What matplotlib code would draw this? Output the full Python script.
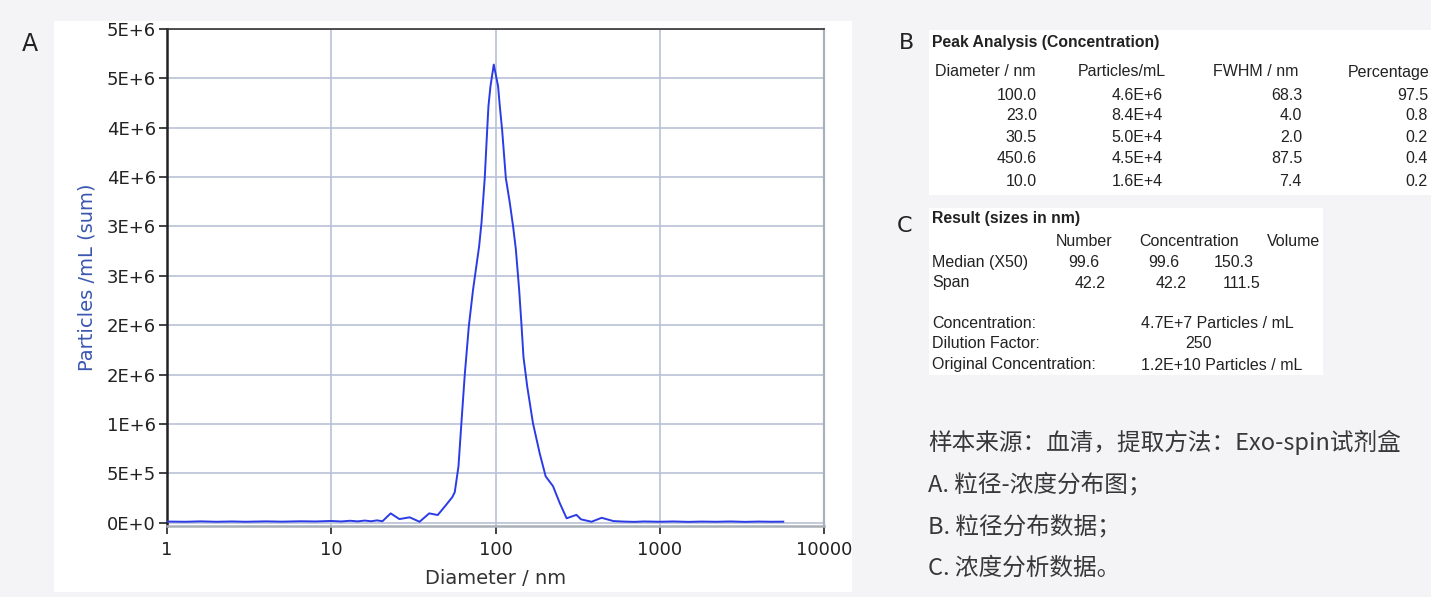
import matplotlib
matplotlib.use("Agg")
import matplotlib.pyplot as plt
from matplotlib.patches import Rectangle
import numpy as np

# size distribution (diameter in nm, particles/mL)
diameter = [1.0, 1.3, 1.6, 2.0, 2.5, 3.0, 4.0, 5.0, 6.5, 8.0, 10.0, 11.5, 13.0, 14.5,
            16.0, 17.5, 19.0, 20.5, 23.0, 26.0, 30.0, 34.5, 39.5, 44.5, 50.0, 54.6,
            56.5, 59.5, 62.0, 65.0, 68.8, 73.0, 79.5, 82.2, 86.0, 89.0, 90.6, 93.2,
            97.6, 103.7, 106.2, 109.7, 115.6, 122.2, 128.0, 133.0, 139.3, 144.0,
            148.0, 156.0, 169.0, 186.0, 202.0, 224.0, 246.0, 271.0, 311.0, 331.0,
            384.0, 443.0, 522.0, 600.0, 700.0, 800.0, 1000.0, 1200.0, 1500.0,
            1800.0, 2200.0, 2700.0, 3300.0, 4000.0, 4800.0, 5650.0]
particles = [1.2e4, 1.0e4, 1.4e4, 1.0e4, 1.3e4, 1.0e4, 1.4e4, 1.1e4, 1.5e4, 1.3e4,
             1.8e4, 1.3e4, 2.0e4, 1.4e4, 2.2e4, 1.5e4, 2.4e4, 1.5e4, 9.5e4, 3.7e4,
             5.5e4, 1.0e4, 9.5e4, 7.8e4, 1.8e5, 2.6e5, 3.1e5, 5.7e5, 1.01e6, 1.50e6,
             1.99e6, 2.36e6, 2.80e6, 3.04e6, 3.49e6, 3.98e6, 4.22e6, 4.42e6, 4.64e6,
             4.42e6, 4.22e6, 3.98e6, 3.49e6, 3.24e6, 3.00e6, 2.77e6, 2.36e6, 2.00e6,
             1.68e6, 1.38e6, 1.01e6, 7.0e5, 4.7e5, 3.7e5, 2.0e5, 4.5e4, 8.0e4, 3.5e4,
             1.0e4, 5.0e4, 1.7e4, 1.2e4, 0.9e4, 1.3e4, 1.0e4, 1.3e4, 0.9e4, 1.2e4,
             1.0e4, 1.3e4, 0.9e4, 1.2e4, 1.0e4, 1.1e4]

x_ticks = [1, 10, 100, 1000, 10000]
x_labels = ["1", "10", "100", "1000", "10000"]
y_ticks = [0, 5e5, 1e6, 1.5e6, 2e6, 2.5e6, 3e6, 3.5e6, 4e6, 4.5e6, 5e6]
y_labels = ["0E+0", "5E+5", "1E+6", "2E+6", "2E+6", "3E+6", "3E+6", "4E+6", "4E+6", "5E+6", "5E+6"]

# table B: peak analysis
peak_cols = ["Diameter / nm", "Particles/mL", "FWHM / nm", "Percentage"]
peak_diam = ["100.0", "23.0", "30.5", "450.6", "10.0"]
peak_conc = ["4.6E+6", "8.4E+4", "5.0E+4", "4.5E+4", "1.6E+4"]
peak_fwhm = ["68.3", "4.0", "2.0", "87.5", "7.4"]
peak_pct = ["97.5", "0.8", "0.2", "0.4", "0.2"]

# table C: results
res_cols = ["Number", "Concentration", "Volume"]
res_median = ["99.6", "99.6", "150.3"]
res_span = ["42.2", "42.2", "111.5"]
conc_text = "4.7E+7 Particles / mL"
dilution = "250"
orig_conc = "1.2E+10 Particles / mL"

notes = ["样本来源：血清，提取方法：Exo-spin试剂盒",
         "A. 粒径-浓度分布图；",
         "B. 粒径分布数据；",
         "C. 浓度分析数据。"]

W, H = 1431, 597
fig = plt.figure(figsize=(W / 100, H / 100), dpi=100, facecolor="#f4f4f7")

def fx(px):
    return px / W

def fy(py):
    return 1 - py / H

def box(x0, y0, x1, y1, color="white"):
    fig.patches.append(Rectangle((fx(x0), fy(y1)), fx(x1) - fx(x0), fy(y0) - fy(y1),
                                 transform=fig.transFigure, facecolor=color,
                                 edgecolor="none", zorder=-1))

# white panels
box(54, 21, 852, 592)
box(929, 30, 1431, 195)
box(929, 208, 1323, 375)

# ---- panel A: distribution plot ----
ax = fig.add_axes([fx(167), fy(526), fx(824) - fx(167), fy(29) - fy(526)])
ax.set_facecolor("white")
ax.plot(diameter, particles, color="#2b3be6", lw=1.4, zorder=3)
ax.set_xscale("log")
ax.set_xlim(1, 10000)
ax.set_ylim(-3.3e4, 5.0e6)
ax.set_xticks(x_ticks)
ax.set_xticklabels(x_labels)
ax.xaxis.set_minor_locator(matplotlib.ticker.NullLocator())
ax.set_yticks(y_ticks)
ax.set_yticklabels(y_labels)
ax.grid(True, color="#b7c1d5", lw=1.2)
ax.set_axisbelow(True)
ax.tick_params(axis="both", labelsize=13, colors="#222222", length=6, width=1.2)
ax.tick_params(axis="y", pad=2)
ax.tick_params(axis="x", pad=5)
ax.spines["left"].set_color("#222222")
ax.spines["left"].set_linewidth(1.8)
ax.spines["top"].set_color("#333333")
ax.spines["top"].set_linewidth(1.2)
ax.spines["right"].set_color("#a9b0b8")
ax.spines["right"].set_linewidth(1.6)
ax.spines["bottom"].set_color("#a9b0b8")
ax.spines["bottom"].set_linewidth(1.8)
ax.set_xlabel("Diameter / nm", fontsize=14, color="#333333")
ax.xaxis.set_label_coords(0.5, -0.087)
ax.set_ylabel("Particles /mL (sum)", fontsize=14, color="#3a56b0")
ax.yaxis.set_label_coords(-0.108, 0.5)

fig.text(fx(30), fy(44), "A", fontsize=17, ha="center", va="center", color="#222222")
fig.text(fx(906), fy(43), "B", fontsize=16, ha="center", va="center", color="#222222")
fig.text(fx(905), fy(226), "C", fontsize=16, ha="center", va="center", color="#222222")

# ---- table B ----
tf = {"family": "Liberation Sans", "fontsize": 11.5, "color": "#222222", "va": "center"}
tb = dict(tf, fontsize=11.3, fontweight="bold")
fig.text(fx(932), fy(42), "Peak Analysis (Concentration)", **tb)
col_left = [935, 1078, 1213, 1348]
col_right = [1037, 1163, 1302, 1428]
for i, c in enumerate(peak_cols):
    fig.text(fx(col_left[i]), fy(72), c, ha="left", **tf)
row_y = [95, 116, 137, 159, 181]
for j, y in enumerate(row_y):
    for i, col in enumerate([peak_diam, peak_conc, peak_fwhm, peak_pct]):
        fig.text(fx(col_right[i]), fy(y), col[j], ha="right", **tf)

# ---- table C ----
fig.text(fx(932), fy(219), "Result (sizes in nm)", **tb)
fig.text(fx(1084), fy(241), res_cols[0], ha="center", **tf)
fig.text(fx(1189), fy(241), res_cols[1], ha="center", **tf)
fig.text(fx(1294), fy(241), res_cols[2], ha="center", **tf)
fig.text(fx(932), fy(262), "Median (X50)", ha="left", **tf)
fig.text(fx(932), fy(283), "Span", ha="left", **tf)
med_x = [1084, 1164, 1234]
span_x = [1090, 1171, 1242]
for i in range(3):
    fig.text(fx(med_x[i]), fy(262), res_median[i], ha="center", **tf)
    fig.text(fx(span_x[i]), fy(283), res_span[i], ha="center", **tf)
fig.text(fx(932), fy(324), "Concentration:", ha="left", **tf)
fig.text(fx(932), fy(344), "Dilution Factor:", ha="left", **tf)
fig.text(fx(932), fy(365), "Original Concentration:", ha="left", **tf)
fig.text(fx(1141), fy(324), conc_text, ha="left", **tf)
fig.text(fx(1198), fy(344), dilution, ha="center", **tf)
fig.text(fx(1141), fy(365), orig_conc, ha="left", **tf)

# ---- notes ----
note_y = [442, 485, 527, 568]
for t, y in zip(notes, note_y):
    fig.text(fx(928), fy(y), t, fontsize=17, color="#383838", ha="left", va="center",
             family=["Noto Sans CJK SC", "DejaVu Sans"])

fig.savefig("out.png", dpi=100, facecolor=fig.get_facecolor())
